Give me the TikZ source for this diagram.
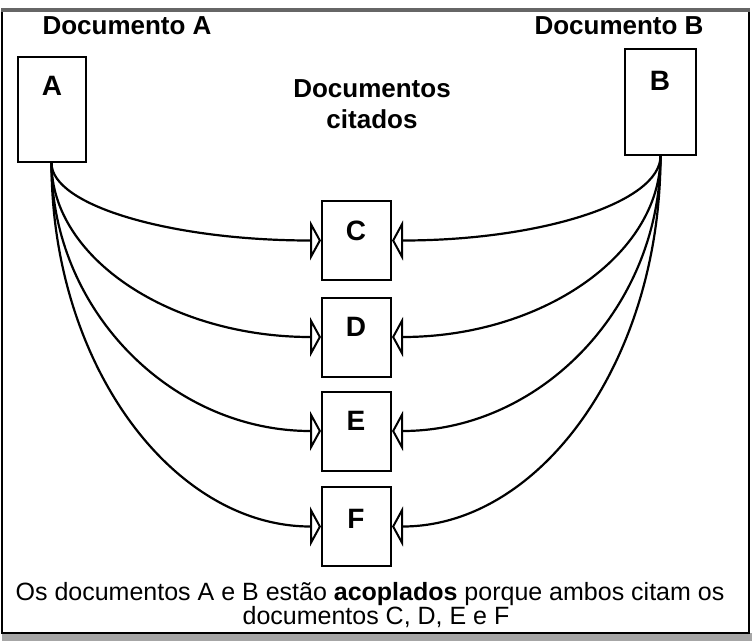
\documentclass[tikz,border=0pt]{standalone}
\usepackage{fontspec}
\setmainfont{Liberation Sans}
\usetikzlibrary{arrows.meta,calc}
\begin{document}
\begin{tikzpicture}[x=1pt,y=-1pt,
  doc/.style={draw,line width=2pt,inner sep=0pt},
  cited/.style={draw,line width=2pt,inner sep=0pt,minimum width=69pt,minimum height=79pt},
  letter/.style={font=\fontsize{28}{28}\selectfont\bfseries,inner sep=0pt},
  title/.style={font=\fontsize{26}{31}\selectfont\bfseries,inner sep=0pt,anchor=base},
  caption/.style={font=\fontsize{25}{25}\selectfont,inner sep=0pt,anchor=base},
  link/.style={line width=2.2pt,-{Triangle[open,length=11pt,width=40pt,line width=2pt]}}]
\useasboundingbox (0,0) rectangle (755,641);
% frame
\fill[gray!70] (2,633) rectangle (752,641);
\draw[line width=1.5pt] (2,10) -- (2,633) -- (749,633) -- (749,10);
\draw[gray!80!black,line width=4pt] (1,10) -- (750,10);
% source documents
\node[doc,minimum width=68pt,minimum height=105pt] (A) at (51.5,109.5) {};
\node[doc,minimum width=71pt,minimum height=106pt] (B) at (660.5,102) {};
\node[letter] (Al) at (52,86) {A};
\node[letter] (Bl) at (660,81) {B};
\node[title] (tA) at (127,34) {Documento A};
\node[title] (tB) at (619,34) {Documento B};
\node[title,align=center] (tC) at (372,128) {Documentos\\citados};
% cited documents
\node[cited] (C) at (356.5,240.5) {};
\node[cited] (D) at (356.5,337) {};
\node[cited] (E) at (356.5,431) {};
\node[cited] (F) at (356.5,526.5) {};
\node[letter] (Cl) at (356,231) {C};
\node[letter] (Dl) at (356,327) {D};
\node[letter] (El) at (356,421) {E};
\node[letter] (Fl) at (356,519) {F};
% connectors (quarter ellipses)
\foreach \t in {C,D,E,F}{
  \draw[link] (A.south) .. controls ($(A.south)!0.5523!(A.south |- \t.west)$)
     and ($(\t.west)!0.5523!(A.south |- \t.west)$) .. (\t.west);
  \draw[link] (B.south) .. controls ($(B.south)!0.5523!(B.south |- \t.east)$)
     and ($(\t.east)!0.5523!(B.south |- \t.east)$) .. (\t.east);
}
% caption
\node[caption] (cap1) at (370,600) {Os documentos A e B estão \textbf{acoplados} porque ambos citam os};
\node[caption] (cap2) at (376,624) {documentos C, D, E e F};
\end{tikzpicture}
\end{document}
